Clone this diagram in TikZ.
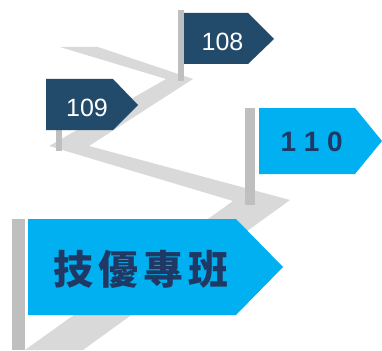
\documentclass[tikz,border=0pt]{standalone}
\usepackage{fontspec}
\setmainfont{Liberation Sans}
\newfontfamily\cjk{Noto Sans CJK TC}[BoldFont={Noto Sans CJK TC Black}]

\definecolor{roadgray}{HTML}{D9D9D9}
\definecolor{polegray}{HTML}{BFBFBF}
\definecolor{darkflag}{HTML}{224A6B}
\definecolor{lightflag}{HTML}{00B0F0}
\definecolor{navytext}{HTML}{1F3864}

\tikzset{
  yeartext/.style={text=white, inner sep=0pt, font=\fontsize{25}{25}\selectfont},
  boldyear/.style={text=navytext, inner sep=0pt, font=\fontsize{28}{28}\selectfont\bfseries},
  classtext/.style={text=navytext, inner sep=0pt, font=\cjk\fontsize{40}{40}\selectfont\bfseries}
}

\begin{document}
\begin{tikzpicture}[x=1pt,y=-1pt]
\useasboundingbox (0,0) rectangle (382,350);

% road
\fill[roadgray] (60,47) -- (98,47) -- (193,79) -- (89,146) -- (290,200) -- (83,350) -- (25,350) -- (233,201) -- (49,146) -- (166,79) -- cycle;

% poles
\fill[polegray] (178,10) rectangle (184,81);
\fill[polegray] (56,80) rectangle (62,151);
\fill[polegray] (245,108) rectangle (255,205);
\fill[polegray] (12,219) rectangle (25,350);

% flags
\fill[darkflag] (184,13) -- (248,13) -- (274,39) -- (248,64) -- (184,64) -- cycle;
\fill[darkflag] (46,79) -- (113,79) -- (138,105) -- (113,130) -- (46,130) -- cycle;
\fill[lightflag] (259,108) -- (355,108) -- (382,141) -- (355,174) -- (259,174) -- cycle;
\fill[lightflag] (28,219) -- (236,219) -- (283,267) -- (236,315) -- (28,315) -- cycle;

\node[yeartext] (y108) at (222.5,41.5) {108};
\node[yeartext] (y109) at (87,107.5) {109};
\node[boldyear] (y110) at (311.7,141.7) {1 1 0};
\node[classtext] (jiyou) at (140.8,269.5) {技\hspace{5pt}優\hspace{5pt}專\hspace{5pt}班};
\end{tikzpicture}
\end{document}
